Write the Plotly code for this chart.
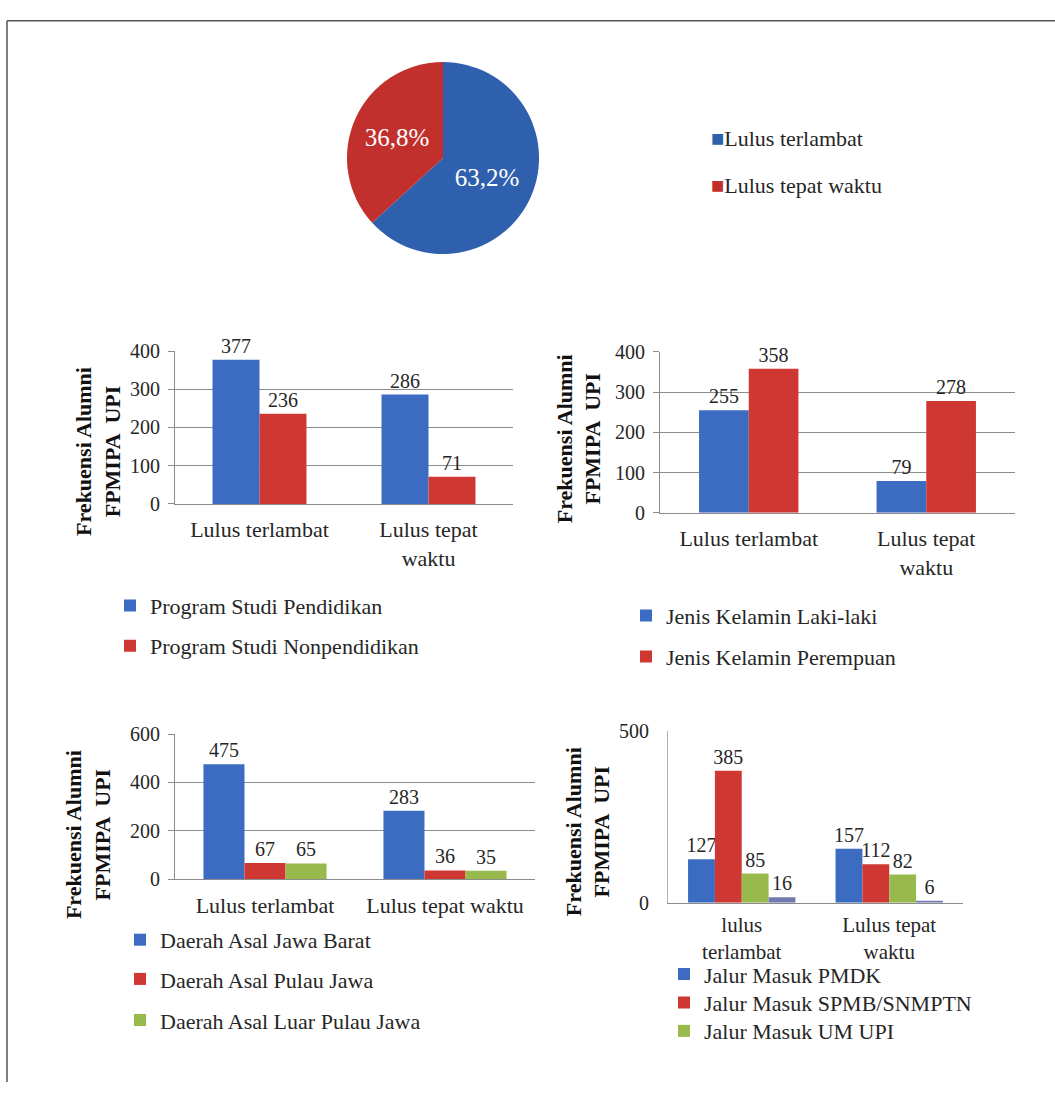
import plotly.graph_objects as go

W, H = 1055, 1093
FONT = "Liberation Serif"
TXT = "#262626"
GRID = "#8c8c8c"


def fx(x):
    return x / W


def fy(y):
    return 1 - y / H


# ---------------- data ----------------
pie_labels = ["Lulus terlambat", "Lulus tepat waktu"]
pie_values = [63.2, 36.8]

cats_prodi = ["Lulus terlambat", "Lulus tepat<br>waktu"]
prodi_series = ["Program Studi Pendidikan", "Program Studi Nonpendidikan"]
prodi_values = [[377, 286], [236, 71]]

cats_gender = ["Lulus terlambat", "Lulus tepat<br>waktu"]
gender_series = ["Jenis Kelamin Laki-laki", "Jenis Kelamin Perempuan"]
gender_values = [[255, 79], [358, 278]]

cats_daerah = ["Lulus terlambat", "Lulus tepat waktu"]
daerah_series = ["Daerah Asal Jawa Barat", "Daerah Asal Pulau Jawa", "Daerah Asal Luar Pulau Jawa"]
daerah_values = [[475, 283], [67, 36], [65, 35]]

cats_jalur = ["lulus<br>terlambat", "Lulus tepat<br>waktu"]
jalur_series = ["Jalur Masuk PMDK", "Jalur Masuk SPMB/SNMPTN", "Jalur Masuk UM UPI", "Jalur Masuk Lainnya"]
jalur_values = [[127, 157], [385, 112], [85, 82], [16, 6]]

BLUE = "#3b6cc2"
RED = "#cf3733"
GREEN = "#98ba4c"
SLATE = "#7479b0"
PIE_BLUE = "#2f60ae"
PIE_RED = "#c2302d"

fig = go.Figure()

# ---------------- pie ----------------
pie_text = [f"{v:.1f}".replace(".", ",") + "%" for v in pie_values]
fig.add_trace(go.Pie(
    labels=pie_labels, values=pie_values, text=pie_text,
    textinfo="text", textposition="inside", insidetextorientation="horizontal",
    textfont=dict(family=FONT, size=25, color="white"),
    marker=dict(colors=[PIE_BLUE, PIE_RED], line=dict(width=0)),
    sort=False, direction="clockwise", rotation=0,
    domain=dict(x=[fx(345), fx(541)], y=[fy(248), fy(52)]),
    showlegend=False, hoverinfo="label+percent",
))

# pie legend drawn as text
pie_leg_y = [130, 178]
for lab, col, yy in zip(pie_labels, [PIE_BLUE, PIE_RED], pie_leg_y):
    fig.add_annotation(
        x=fx(709), y=fy(yy), xref="paper", yref="paper", xanchor="left", yanchor="middle",
        text=f'<span style="color:{col}">■</span>{lab}', showarrow=False,
        font=dict(family=FONT, size=22, color=TXT),
    )

# ---------------- bar charts ----------------
charts = [
    dict(cats=cats_prodi, series=prodi_series, values=prodi_values, colors=[BLUE, RED],
         xd=[175, 513], y0=503, ytop=347, ymax=400, dtick=100, grid=True, bw=0.278,
         leg_x=[110, 110], leg_y=[607, 648], leg_size=22, cat_size=22,
         title_xy=(98, 450)),
    dict(cats=cats_gender, series=gender_series, values=gender_values, colors=[BLUE, RED],
         xd=[660, 1015], y0=512, ytop=348, ymax=400, dtick=100, grid=True, bw=0.28,
         leg_x=[626, 626], leg_y=[617, 659], leg_size=22, cat_size=22,
         title_xy=(579, 437)),
    dict(cats=cats_daerah, series=daerah_series, values=daerah_values, colors=[BLUE, RED, GREEN],
         xd=[175, 535], y0=886, ytop=738, ymax=600, dtick=200, grid=True, bw=0.228,
         leg_x=[120, 120, 120], leg_y=[948, 988, 1030], leg_size=22, cat_size=22,
         title_xy=(88, 841)),
    dict(cats=cats_jalur, series=jalur_series, values=jalur_values, colors=[BLUE, RED, GREEN, SLATE],
         xd=[668, 963], y0=910, ytop=735, ymax=500, dtick=500, grid=False, bw=0.182,
         leg_x=[664, 664, 664], leg_y=[983, 1012, 1041], leg_size=22, cat_size=21,
         title_xy=(588, 838)),
]

leg_n = 1
layout_axes = {}
for i, c in enumerate(charts, start=1):
    xa = "x" if i == 1 else f"x{i}"
    ya = "y" if i == 1 else f"y{i}"
    ns = len(c["series"])
    for j, (name, vals, col) in enumerate(zip(c["series"], c["values"], c["colors"])):
        show = j < len(c["leg_y"])
        trace = dict(
            x=c["cats"], y=vals, name=name, xaxis=xa, yaxis=ya,
            width=c["bw"], offset=-ns * c["bw"] / 2 + j * c["bw"],
            marker=dict(color=col, line=dict(width=0)),
            text=vals, texttemplate="%{text}", textposition="outside",
            constraintext="none", cliponaxis=False,
            textfont=dict(family=FONT, size=20, color=TXT),
            showlegend=show,
        )
        if show:
            leg_n += 1
            lname = f"legend{leg_n}"
            trace["legend"] = lname
            layout_axes[lname] = dict(
                x=fx(c["leg_x"][j]), y=fy(c["leg_y"][j]), xanchor="left", yanchor="middle",
                bgcolor="rgba(0,0,0,0)", borderwidth=0,
                font=dict(family=FONT, size=c["leg_size"], color=TXT),
            )
        fig.add_trace(go.Bar(**trace))

    layout_axes["xaxis" if i == 1 else f"xaxis{i}"] = dict(
        domain=[fx(c["xd"][0]), fx(c["xd"][1])], anchor=ya,
        showline=True, linecolor=GRID, linewidth=1, ticks="", showgrid=False,
        tickfont=dict(family=FONT, size=c["cat_size"], color=TXT),
        ticklabelstandoff=6 if i < 4 else 3,
        fixedrange=True,
    )
    layout_axes["yaxis" if i == 1 else f"yaxis{i}"] = dict(
        domain=[fy(c["y0"]), fy(c["ytop"])], anchor=xa, range=[0, c["ymax"]],
        dtick=c["dtick"], showgrid=c["grid"], gridcolor=GRID, gridwidth=1,
        showline=True, linecolor=GRID if c["grid"] else "#b0b0b0", linewidth=1,
        ticks="outside" if c["grid"] else "", ticklen=6, tickcolor=GRID,
        zeroline=False, tickfont=dict(family=FONT, size=20, color=TXT),
        ticklabelstandoff=4 if c["grid"] else 14, fixedrange=True,
    )
    tx, ty = c["title_xy"]
    fig.add_annotation(
        x=fx(tx), y=fy(ty), xref="paper", yref="paper", xanchor="center", yanchor="middle",
        text="<b>Frekuensi Alumni<br>FPMIPA  UPI</b>", textangle=-90, showarrow=False,
        font=dict(family=FONT, size=22, color="#111111"),
    )

fig.update_layout(
    width=W, height=H, margin=dict(l=0, r=0, t=0, b=0),
    paper_bgcolor="white", plot_bgcolor="white",
    barmode="group", bargap=0.4, bargroupgap=0,
    font=dict(family=FONT, color=TXT),
    **layout_axes,
)

# frame lines of the page
fig.add_shape(type="line", xref="paper", yref="paper", x0=fx(7), x1=1, y0=fy(10), y1=fy(10),
              line=dict(color="#555555", width=1.5))
fig.add_shape(type="line", xref="paper", yref="paper", x0=fx(7), x1=fx(7), y0=fy(10), y1=0,
              line=dict(color="#555555", width=1.5))

fig.write_html("out.html")
